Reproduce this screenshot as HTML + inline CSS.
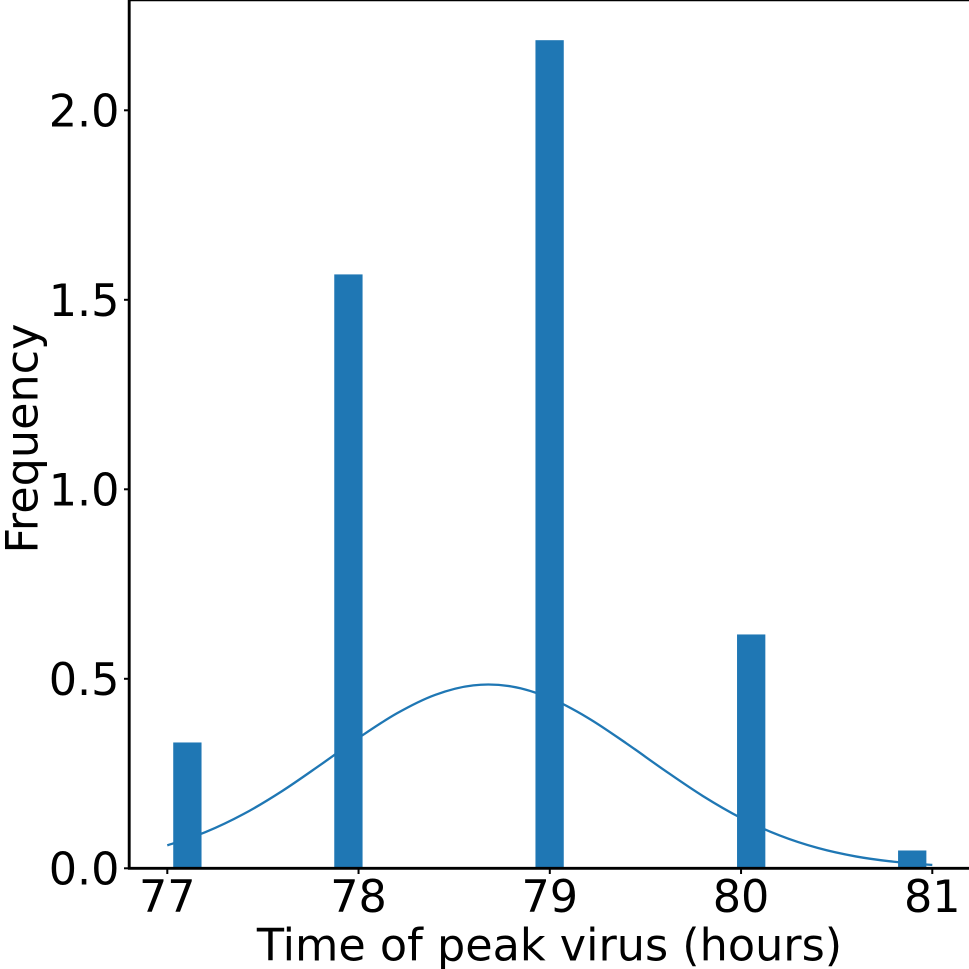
<!DOCTYPE html>
<html>
<head>
<meta charset="utf-8">
<style>
html,body{margin:0;padding:0;background:#fff;width:969px;height:969px;overflow:hidden}
svg{display:block}
text{font-family:"DejaVu Sans","Liberation Sans",sans-serif;fill:#000}
</style>
</head>
<body>
<svg id="chart" width="969" height="969" viewBox="0 0 969 969" xmlns="http://www.w3.org/2000/svg">
<g id="curve-layer"></g>
<g id="bar-layer"></g>
<g id="axis-layer"></g>
<text x="549.5" y="960.5" font-size="44.5" text-anchor="middle">Time of peak virus (hours)</text>
<text transform="translate(37.5,438.5) rotate(-90)" font-size="44.5" text-anchor="middle">Frequency</text>
</svg>
<script>
const binLefts = [77.031, 77.873, 78.925, 79.979, 80.821];
const binWidth = 0.148;
const binHeights = [0.332, 1.567, 2.185, 0.617, 0.047];
const curveX = [77.0,77.2,77.4,77.6,77.8,78.0,78.2,78.4,78.6,78.8,79.0,79.2,79.4,79.6,79.8,80.0,80.2,80.4,80.6,80.8,81.0];
const curveY = [0.0605,0.0955,0.1435,0.2037,0.2727,0.3439,0.4087,0.4575,0.4827,0.4798,0.4494,0.3967,0.3299,0.2585,0.1908,0.1327,0.0870,0.0538,0.0313,0.0172,0.0089];
const xTicks = [77,78,79,80,81];
const yTicks = [0,0.5,1,1.5,2];
const yTickLabels = ["0.0","0.5","1.0","1.5","2.0"];

const NS = 'http://www.w3.org/2000/svg';
const sx = v => 167.3 + (v - 77) * 191.25;
const sy = v => 868.3 - v * 379;
const make = (tag, attrs) => {
  const el = document.createElementNS(NS, tag);
  for (const k in attrs) el.setAttribute(k, attrs[k]);
  return el;
};
const curveLayer = document.getElementById('curve-layer');
const barLayer = document.getElementById('bar-layer');
const axisLayer = document.getElementById('axis-layer');

// density curve (Catmull-Rom smoothing through the read points)
const pts = curveX.map((x, i) => [sx(x), sy(curveY[i])]);
let d = 'M' + pts[0][0] + ' ' + pts[0][1];
for (let i = 0; i < pts.length - 1; i++) {
  const p0 = pts[Math.max(i - 1, 0)], p1 = pts[i], p2 = pts[i + 1], p3 = pts[Math.min(i + 2, pts.length - 1)];
  d += ' C' + (p1[0] + (p2[0] - p0[0]) / 6) + ' ' + (p1[1] + (p2[1] - p0[1]) / 6) + ' ' +
       (p2[0] - (p3[0] - p1[0]) / 6) + ' ' + (p2[1] - (p3[1] - p1[1]) / 6) + ' ' + p2[0] + ' ' + p2[1];
}
const curve = make('path', {d: d, fill: 'none', stroke: '#1f77b4', 'stroke-width': 2.3});


curveLayer.appendChild(curve);

// bars
binHeights.forEach((h, i) => {
  const x0 = sx(binLefts[i]), x1 = sx(binLefts[i] + binWidth), y0 = sy(h), y1 = sy(0);
  const bar = make('rect', {x: x0, y: y0, width: x1 - x0, height: y1 - y0, fill: '#1f77b4'});
  
  
  barLayer.appendChild(bar);
});

// spines
const leftSpine = make('line', {x1: 129.2, x2: 129.2, y1: 0, y2: 869.5, stroke: '#000', 'stroke-width': 2.9});


axisLayer.appendChild(leftSpine);
const bottomSpine = make('line', {x1: 128, x2: 969, y1: 868.3, y2: 868.3, stroke: '#000', 'stroke-width': 2.9});


axisLayer.appendChild(bottomSpine);
const topSpine = make('line', {x1: 128, x2: 969, y1: 0.4, y2: 0.4, stroke: '#000', 'stroke-width': 1.8});


axisLayer.appendChild(topSpine);

// x ticks
xTicks.forEach(v => {
  const tick = make('line', {x1: sx(v), x2: sx(v), y1: 868, y2: 874, stroke: '#000', 'stroke-width': 2});
  
  
  axisLayer.appendChild(tick);
  const label = make('text', {x: sx(v), y: 912, 'font-size': 44.5, 'text-anchor': 'middle'});
  
  
  label.textContent = String(v);
  axisLayer.appendChild(label);
});

// y ticks
yTicks.forEach((v, i) => {
  const tick = make('line', {x1: 124, x2: 129, y1: sy(v), y2: sy(v), stroke: '#000', 'stroke-width': 2});
  
  
  axisLayer.appendChild(tick);
  const label = make('text', {x: 119.5, y: sy(v) + 16.3, 'font-size': 44.5, 'text-anchor': 'end'});
  
  
  label.textContent = yTickLabels[i];
  axisLayer.appendChild(label);
});
</script>
</body>
</html>
